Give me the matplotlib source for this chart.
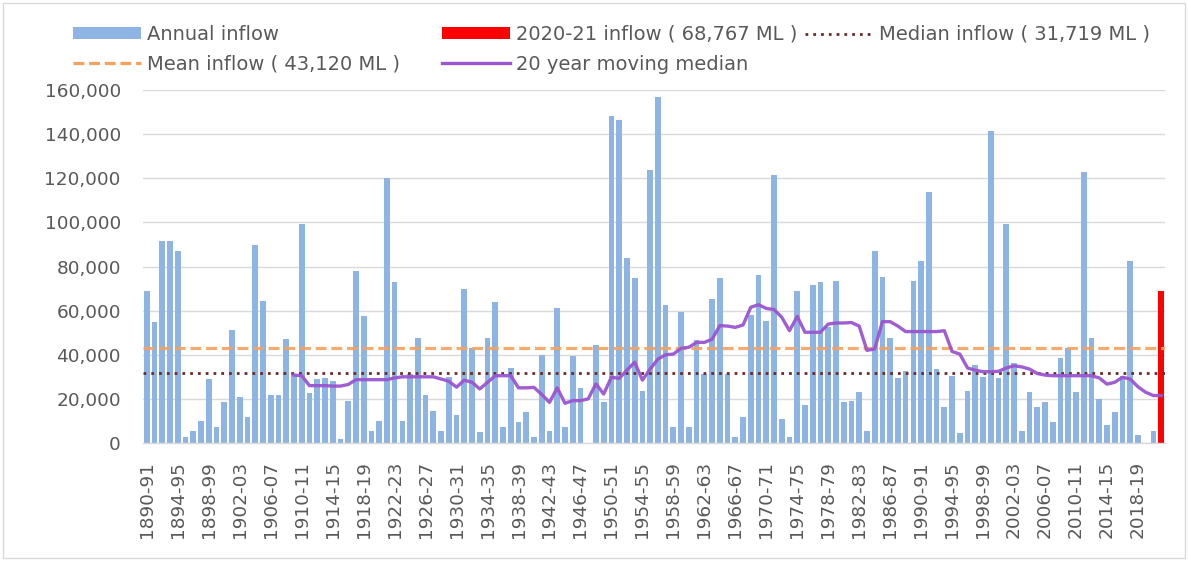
import matplotlib
matplotlib.use("Agg")
import matplotlib.pyplot as plt
from matplotlib.patches import Patch, Rectangle
from matplotlib.lines import Line2D
from matplotlib.ticker import FuncFormatter

# ---------------- data ----------------
seasons = [f"{y}-{str(y + 1)[-2:]}" for y in range(1890, 2022)]   # category slots

annual_inflow_k = [
    69.0, 54.7, 91.7, 91.7, 87.2, 2.9, 5.6, 10.1, 29.0, 7.4,
    18.4, 51.0, 21.0, 11.9, 89.9, 64.5, 21.9, 21.9, 47.3, 31.0,
    99.2, 22.8, 28.8, 29.5, 28.0, 1.8, 19.2, 78.1, 57.4, 5.6,
    10.1, 119.9, 72.8, 10.1, 31.3, 47.4, 21.9, 14.7, 5.6, 30.0,
    12.8, 70.0, 43.0, 4.8, 47.4, 63.7, 7.4, 33.8, 9.4, 13.9,
    2.9, 40.0, 5.6, 61.0, 7.4, 39.3, 24.8, 0.0, 44.6, 18.7,
    148.0, 146.2, 83.7, 74.6, 23.7, 123.7, 157.0, 62.7, 7.4, 59.2,
    7.4, 46.5, 31.5, 65.3, 74.6, 31.3, 2.5, 11.8, 58.0, 76.0,
    55.4, 121.6, 10.9, 2.9, 69.0, 17.4, 71.8, 72.8, 52.5, 73.6,
    18.4, 19.2, 23.0, 5.6, 87.2, 75.4, 47.4, 29.3, 32.8, 73.6,
    82.6, 113.6, 33.5, 16.3, 30.5, 4.5, 23.7, 35.3, 30.0, 141.5,
    29.3, 99.2, 36.3, 5.6, 23.0, 16.5, 18.4, 9.4, 38.4, 42.9,
    23.0, 122.7, 47.4, 19.9, 8.3, 13.9, 30.5, 82.6, 3.8, 0.0,
    5.6,
]
current_inflow = 68767          # 2020-21 inflow (ML), last slot
median_inflow = 31719
mean_inflow = 43120

moving_median_start = 19        # first slot of the 20 year moving median
moving_median_k = [
    30.8, 30.5, 26.0, 26.0, 26.0, 25.8, 25.8, 26.5, 28.7, 28.7,
    28.7, 28.7, 28.7, 29.5, 30.0, 30.0, 30.0, 30.0, 30.0, 29.0,
    28.0, 25.3, 28.5, 27.5, 24.5, 27.5, 30.5, 30.5, 30.5, 25.0,
    25.0, 25.2, 22.0, 18.4, 25.0, 18.0, 19.2, 19.2, 20.0, 26.8,
    22.2, 29.8, 29.3, 33.0, 36.6, 28.5, 33.5, 38.0, 40.0, 40.3,
    42.9, 43.4, 45.6, 45.6, 47.0, 53.2, 53.0, 52.4, 53.5, 61.5,
    62.7, 61.0, 60.5, 57.0, 50.9, 57.4, 50.2, 50.2, 50.2, 53.9,
    54.4, 54.4, 54.6, 53.0, 42.0, 42.6, 55.0, 55.0, 53.0, 50.5,
    50.5, 50.5, 50.5, 50.5, 50.9, 41.5, 40.3, 34.0, 33.0, 32.3,
    32.3, 32.5, 34.0, 35.0, 34.5, 33.5, 31.5, 30.8, 30.5, 30.5,
    30.5, 30.5, 30.5, 30.5, 29.5, 26.7, 27.5, 29.8, 29.0, 25.5,
    23.0, 21.5, 21.5,
]

legend_labels = [
    "Annual inflow",
    "2020-21 inflow ( 68,767 ML )",
    "Median inflow ( 31,719 ML )",
    "Mean inflow ( 43,120 ML )",
    "20 year moving median",
]

# ---------------- styles ----------------
BLUE = "#8DB4E2"
RED = "#FF0000"
MEDIAN_C = "#6B2A2A"
MEAN_C = "#F6A25E"
PURPLE = "#9A55CF"
GRID = "#D9D9D9"
TXT = "#595959"
FONT = "DejaVu Sans"

W, H = 1188, 561
fig = plt.figure(figsize=(W / 100, H / 100), dpi=100)
ax = fig.add_axes([143 / W, 1 - 443 / H, (1165 - 143) / W, (443 - 90) / H])

n_slots = len(seasons)
blue_x = list(range(len(annual_inflow_k)))
ax.bar(blue_x, [v * 1000 for v in annual_inflow_k], width=0.74, color=BLUE,
       zorder=2, linewidth=0)
ax.bar([n_slots - 1], [current_inflow], width=0.74, color=RED, zorder=2,
       linewidth=0)

mean_style = dict(color=MEAN_C, lw=2.3, dashes=(3.4, 1.5))
median_style = dict(color=MEDIAN_C, lw=2.0, dashes=(1.0, 1.8))
mm_style = dict(color=PURPLE, lw=2.4)

ax.axhline(mean_inflow, zorder=3, alpha=0.9, **mean_style)
ax.axhline(median_inflow, zorder=3, dash_capstyle="butt", **median_style)
mm_x = list(range(moving_median_start, moving_median_start + len(moving_median_k)))
ax.plot(mm_x, [v * 1000 for v in moving_median_k], zorder=4,
        solid_joinstyle="round", alpha=0.95, **mm_style)

ax.set_xlim(-0.5, n_slots - 0.5)
ax.set_ylim(0, 160000)
ax.set_yticks(range(0, 160001, 20000))
ax.yaxis.set_major_formatter(FuncFormatter(lambda v, p: f"{int(v):,}"))
ax.grid(axis="y", color=GRID, lw=1.0, zorder=0)
ax.set_axisbelow(True)

ax.set_xticks(range(0, len(annual_inflow_k), 4))
ax.set_xticklabels(seasons[0:len(annual_inflow_k):4], rotation=90,
                   fontfamily=FONT, fontsize=13.3, color=TXT)
for lab in ax.get_yticklabels():
    lab.set_fontfamily(FONT)
    lab.set_fontsize(13.3)
    lab.set_color(TXT)
ax.tick_params(axis="x", length=0, pad=13)
ax.tick_params(axis="y", length=0, pad=16)

for s in ["top", "right", "left"]:
    ax.spines[s].set_visible(False)
ax.spines["bottom"].set_color(GRID)
ax.spines["bottom"].set_linewidth(1.0)

# legend laid out in three equal-width columns, like the original
columns = [
    (73, [Patch(facecolor=BLUE, edgecolor="none"), Line2D([], [], **mean_style)],
     [legend_labels[0], legend_labels[3]]),
    (442, [Patch(facecolor=RED, edgecolor="none"), Line2D([], [], **mm_style)],
     [legend_labels[1], legend_labels[4]]),
    (805, [Line2D([], [], **median_style)], [legend_labels[2]]),
]
for x0, hs, ls in columns:
    leg = fig.legend(hs, ls, loc="upper left",
                     bbox_to_anchor=(x0 / W, 1 - 25 / H), ncol=1, frameon=False,
                     borderpad=0, borderaxespad=0, handlelength=3.5,
                     handleheight=0.55, handletextpad=0.3, labelspacing=0.55,
                     prop={"family": FONT, "size": 14.0})
    for t in leg.get_texts():
        t.set_color(TXT)

fig.patches.append(Rectangle((3 / W, 3 / H), (W - 6) / W, (H - 6) / H,
                             transform=fig.transFigure, fill=False,
                             edgecolor=GRID, lw=1.0))

fig.savefig("out.png", dpi=100)
